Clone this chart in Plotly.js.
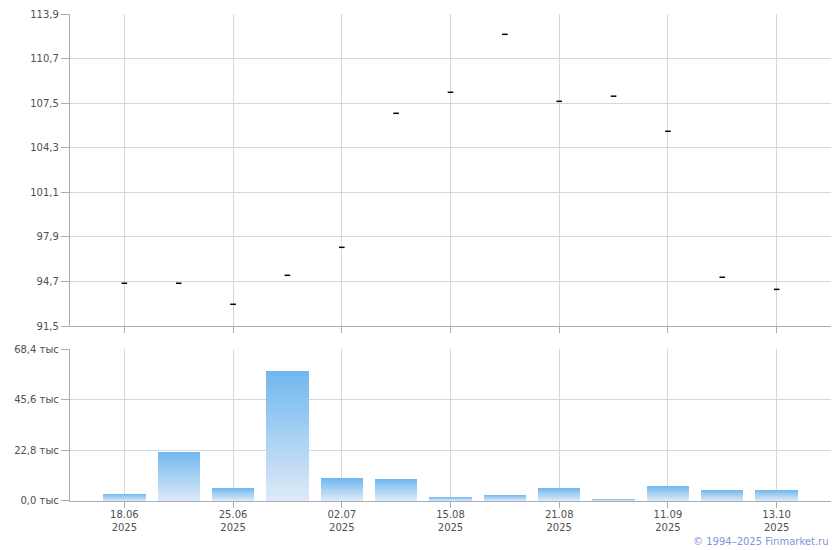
<!DOCTYPE html>
<html>
<head>
<meta charset="utf-8">
<script src="https://cdn.plot.ly/plotly-3.0.1.min.js"></script>
<style>html,body{margin:0;padding:0;background:#fff;}#chart{width:840px;height:550px;}</style>
</head>
<body>
<div id="chart"></div>
<script>
// Data
const idx = [0,1,2,3,4,5,6,7,8,9,10,11,12];
const price = [94.57, 94.57, 93.06, 95.14, 97.15, 106.77, 108.28, 112.44, 107.63, 108.0, 105.48, 95.0, 94.13];
const volume = [3.15, 22.1, 5.86, 58.6, 10.37, 9.92, 1.8, 2.71, 5.86, 0.9, 6.76, 4.96, 4.96]; // thousands
const xTickVals = [0,2,4,6,8,10,12];
const xTickText = ['18.06<br>2025','25.06<br>2025','02.07<br>2025','15.08<br>2025','21.08<br>2025','11.09<br>2025','13.10<br>2025'];
const yTickVals = [91.5, 94.7, 97.9, 101.1, 104.3, 107.5, 110.7, 113.9];
const yTickText = ['91,5','94,7','97,9','101,1','104,3','107,5','110,7','113,9'];
const vTickVals = [0, 22.8, 45.6, 68.4];
const vTickText = ['0,0 тыс','22,8 тыс','45,6 тыс','68,4 тыс'];

const topCol = [114, 184, 239];
const botCol = [220, 233, 247];
const N = 24;
const traces = [];
for (let k = 0; k < N; k++) {
  const t = k / (N - 1);
  const c = topCol.map((v, i) => Math.round(v + (botCol[i] - v) * t));
  traces.push({
    type: 'bar', x: idx, y: volume.map(v => v * (1 - k / N)),
    xaxis: 'x', yaxis: 'y2', width: 0.78,
    marker: {color: 'rgb(' + c.join(',') + ')', line: {width: 0}},
    hoverinfo: 'skip', showlegend: false
  });
}
traces.push({
  type: 'scatter', mode: 'markers', x: idx, y: price, xaxis: 'x2', yaxis: 'y',
  marker: {symbol: 'line-ew', size: 4, color: '#000', line: {width: 1.5, color: '#000'}},
  showlegend: false
});

const gridC = '#d3d9dd';
const axC = '#a9acb6';
const tickFont = {family: 'DejaVu Sans, Verdana, sans-serif', size: 10, color: '#4f4f4f'};

const layout = {
  width: 840, height: 550,
  margin: {l: 70, r: 9, t: 14, b: 49},
  paper_bgcolor: '#fff', plot_bgcolor: '#fff',
  barmode: 'overlay', bargap: 0,
  showlegend: false,
  font: tickFont,
  xaxis: {
    anchor: 'y2', range: [-1, 13], tickmode: 'array', tickvals: xTickVals, ticktext: xTickText,
    showgrid: true, gridcolor: gridC, gridwidth: 1, zeroline: false,
    showline: true, linecolor: axC, linewidth: 1.2, ticks: 'outside', ticklen: 6, tickcolor: axC,
    ticklabelstandoff: -2,
    tickfont: tickFont, fixedrange: true
  },
  xaxis2: {
    anchor: 'y', matches: 'x', range: [-1, 13], tickmode: 'array', tickvals: xTickVals,
    showticklabels: false, showgrid: true, gridcolor: gridC, zeroline: false,
    showline: true, linecolor: axC, linewidth: 1.2, ticks: 'outside', ticklen: 6, tickcolor: axC
  },
  yaxis: {
    domain: [0.3593, 1], range: [91.5, 113.9], tickmode: 'array', tickvals: yTickVals, ticktext: yTickText,
    showgrid: true, gridcolor: gridC, zeroline: false,
    showline: true, linecolor: axC, linewidth: 1.2, ticks: 'outside', ticklen: 8, tickcolor: axC,
    tickfont: tickFont
  },
  yaxis2: {
    domain: [0, 0.3121], range: [0, 68.4], tickmode: 'array', tickvals: vTickVals, ticktext: vTickText,
    showgrid: true, gridcolor: gridC, zeroline: false,
    showline: true, linecolor: axC, linewidth: 1.2, ticks: 'outside', ticklen: 8, tickcolor: axC,
    tickfont: tickFont
  },
  annotations: [{
    xref: 'paper', yref: 'paper', x: 1.0, y: -0.084, xanchor: 'right', yanchor: 'middle',
    text: '© 1994–2025 Finmarket.ru', showarrow: false,
    font: {family: 'DejaVu Sans, Verdana, sans-serif', size: 10, color: '#8393e0'}
  }]
};

Plotly.newPlot('chart', traces, layout, {displayModeBar: false, staticPlot: true});
</script>
</body>
</html>
